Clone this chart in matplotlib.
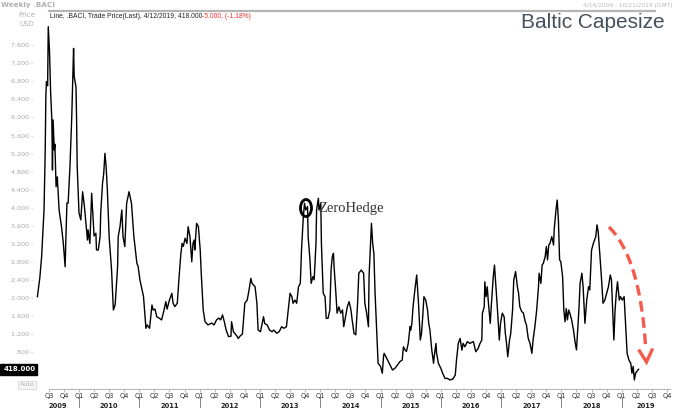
import numpy as np
import matplotlib
matplotlib.use("Agg")
import matplotlib.pyplot as plt
from matplotlib.lines import Line2D
from matplotlib.patches import Rectangle, Ellipse
from matplotlib.transforms import blended_transform_factory

# Weekly .BACI (decimal years, USD)
t_2009 = [2009.31, 2009.35, 2009.38, 2009.42, 2009.44, 2009.45, 2009.46, 2009.48, 2009.49, 2009.51,
          2009.53, 2009.55, 2009.56, 2009.57, 2009.59, 2009.60, 2009.62, 2009.64, 2009.67, 2009.71,
          2009.74, 2009.77, 2009.78, 2009.80, 2009.82, 2009.85, 2009.88, 2009.91, 2009.92, 2009.95,
          2009.96, 2009.97]
v_2009 = [2025, 2440, 2910, 3945, 5275, 6455, 6790, 6700, 8005, 7490,
          6530, 5940, 4830, 5940, 5275, 5400, 4460, 4680, 3945, 3575,
          3205, 2690, 3205, 4100, 4100, 4905, 6010, 7525, 6900, 6675,
          5940, 4905]
t_2010 = [2010.00, 2010.03, 2010.06, 2010.09, 2010.12, 2010.14, 2010.15, 2010.18, 2010.21, 2010.24,
          2010.25, 2010.28, 2010.29, 2010.32, 2010.35, 2010.36, 2010.39, 2010.41, 2010.43, 2010.45,
          2010.47, 2010.50, 2010.54, 2010.57, 2010.60, 2010.64, 2010.65, 2010.68, 2010.71, 2010.73,
          2010.76, 2010.79, 2010.83, 2010.87, 2010.91, 2010.96, 2010.98]
v_2010 = [3880, 3725, 4350, 4020, 3575, 3280, 3505, 3205, 4315, 3575,
          3370, 3430, 3060, 3060, 3355, 3870, 4535, 4755, 5200, 4905,
          4390, 3355, 2615, 1730, 1850, 2690, 3355, 3575, 3945, 3355,
          3135, 4095, 4350, 4095, 3355, 2765, 2700]
t_2011 = [2011.01, 2011.07, 2011.11, 2011.13, 2011.17, 2011.21, 2011.23, 2011.26, 2011.29, 2011.33,
          2011.37, 2011.41, 2011.44, 2011.46, 2011.50, 2011.54, 2011.56, 2011.59, 2011.63, 2011.66,
          2011.69, 2011.71, 2011.73, 2011.76, 2011.79, 2011.81, 2011.84, 2011.87, 2011.89, 2011.91,
          2011.92, 2011.95, 2011.98]
v_2011 = [2400, 2025, 1325, 1400, 1325, 1840, 1730, 1750, 1580, 1550,
          1510, 1730, 1915, 1750, 1950, 2100, 1880, 1805, 1880, 2470,
          2985, 3205, 3140, 3320, 3205, 3575, 3355, 2800, 3205, 3280,
          3060, 3650, 3575]
t_2012 = [2012.01, 2012.03, 2012.06, 2012.09, 2012.14, 2012.20, 2012.24, 2012.28, 2012.32, 2012.35,
          2012.38, 2012.41, 2012.44, 2012.48, 2012.52, 2012.53, 2012.56, 2012.59, 2012.62, 2012.64,
          2012.67, 2012.71, 2012.75, 2012.79, 2012.82, 2012.85, 2012.87, 2012.92, 2012.95, 2012.97]
v_2012 = [3060, 2470, 1730, 1470, 1400, 1440, 1400, 1510, 1550, 1510,
          1620, 1470, 1285, 1140, 1150, 1470, 1250, 1200, 1150, 1100,
          1150, 1200, 1880, 1950, 2175, 2430, 2320, 2245, 1880, 1285]
t_2013 = [2013.01, 2013.06, 2013.08, 2013.12, 2013.16, 2013.20, 2013.23, 2013.28, 2013.32, 2013.36,
          2013.40, 2013.44, 2013.47, 2013.50, 2013.53, 2013.55, 2013.58, 2013.61, 2013.64, 2013.67,
          2013.69, 2013.72, 2013.74, 2013.76, 2013.79, 2013.80, 2013.83, 2013.85, 2013.88, 2013.90,
          2013.93, 2013.94, 2013.97, 2013.98]
v_2013 = [1250, 1580, 1430, 1400, 1285, 1250, 1285, 1215, 1250, 1360,
          1325, 1360, 1730, 2100, 2025, 1880, 1950, 1880, 2245, 2320,
          3060, 3795, 4095, 3945, 4020, 3355, 2840, 2320, 2470, 2400,
          3205, 3945, 4205, 3945]
t_2014 = [2014.01, 2014.02, 2014.05, 2014.08, 2014.10, 2014.13, 2014.16, 2014.18, 2014.20, 2014.22,
          2014.23, 2014.26, 2014.28, 2014.31, 2014.34, 2014.37, 2014.39, 2014.42, 2014.45, 2014.48,
          2014.51, 2014.53, 2014.56, 2014.59, 2014.62, 2014.64, 2014.68, 2014.72, 2014.74, 2014.77,
          2014.80, 2014.81, 2014.84, 2014.85, 2014.87, 2014.89, 2014.91, 2014.94, 2014.96]
v_2014 = [4095, 3205, 2100, 2025, 1545, 1545, 1730, 2615, 2910, 2985,
          2690, 2100, 1660, 1800, 1660, 1730, 1360, 1580, 1805, 1915,
          1730, 1510, 1215, 1180, 1880, 2545, 2615, 2545, 1880, 1660,
          1360, 2470, 3355, 3650, 3205, 2985, 2100, 1140, 550]
t_2015 = [2015.00, 2015.03, 2015.05, 2015.06, 2015.09, 2015.13, 2015.17, 2015.20, 2015.24, 2015.28,
          2015.32, 2015.36, 2015.38, 2015.41, 2015.43, 2015.46, 2015.49, 2015.50, 2015.52, 2015.54,
          2015.57, 2015.60, 2015.63, 2015.66, 2015.68, 2015.70, 2015.72, 2015.75, 2015.78, 2015.80,
          2015.82, 2015.85, 2015.88, 2015.89, 2015.92, 2015.93, 2015.96]
v_2015 = [480, 330, 695, 770, 695, 585, 480, 400, 440, 510,
          585, 620, 915, 840, 810, 990, 1360, 1285, 1430, 1805,
          2175, 2505, 1880, 1065, 1215, 1580, 2025, 1950, 1730, 1435,
          1285, 845, 550, 695, 990, 770, 550]
t_2016 = [2016.00, 2016.03, 2016.07, 2016.11, 2016.15, 2016.20, 2016.24, 2016.26, 2016.29, 2016.32,
          2016.35, 2016.37, 2016.40, 2016.44, 2016.48, 2016.54, 2016.58, 2016.62, 2016.65, 2016.68,
          2016.69, 2016.72, 2016.73, 2016.75, 2016.77, 2016.79, 2016.82, 2016.84, 2016.87, 2016.89,
          2016.91, 2016.94, 2016.97, 2016.99]
v_2016 = [440, 330, 215, 215, 180, 200, 290, 620, 990, 1100,
          840, 990, 915, 1030, 990, 1030, 805, 880, 990, 1065,
          1660, 1800, 2355, 2025, 2245, 1880, 1435, 1880, 2470, 2725,
          2320, 1730, 1065, 1435]
t_2017 = [2017.02, 2017.05, 2017.07, 2017.09, 2017.11, 2017.14, 2017.16, 2017.19, 2017.21, 2017.24,
          2017.27, 2017.29, 2017.31, 2017.34, 2017.37, 2017.40, 2017.42, 2017.45, 2017.48, 2017.51,
          2017.53, 2017.56, 2017.59, 2017.62, 2017.63, 2017.66, 2017.68, 2017.70, 2017.73, 2017.75,
          2017.77, 2017.79, 2017.81, 2017.84, 2017.87, 2017.88, 2017.91, 2017.93, 2017.95, 2017.97,
          2017.99]
v_2017 = [1660, 1580, 1215, 990, 695, 1065, 1215, 1730, 2395, 2580,
          2245, 2100, 1805, 1700, 1660, 1470, 1400, 1100, 990, 770,
          1065, 1360, 1730, 2245, 2545, 2320, 2725, 2765, 2910, 3135,
          2840, 3170, 3205, 3355, 3170, 3505, 3945, 4165, 3725, 2840,
          2800]
t_2018 = [2018.02, 2018.04, 2018.06, 2018.08, 2018.10, 2018.12, 2018.14, 2018.17, 2018.20, 2018.23,
          2018.25, 2018.27, 2018.29, 2018.31, 2018.34, 2018.36, 2018.39, 2018.42, 2018.45, 2018.47,
          2018.50, 2018.53, 2018.55, 2018.57, 2018.59, 2018.61, 2018.64, 2018.67, 2018.69, 2018.72,
          2018.75, 2018.78, 2018.81, 2018.83, 2018.85, 2018.87, 2018.89, 2018.91, 2018.93, 2018.96,
          2018.98]
v_2018 = [2470, 1730, 1470, 1760, 1510, 1730, 1660, 1510, 1285, 990,
          845, 1285, 1730, 2320, 2545, 2245, 1435, 1950, 2245, 2175,
          3060, 3205, 3280, 3355, 3615, 3465, 2910, 2320, 1880, 1950,
          2100, 2245, 2505, 2400, 1730, 1065, 1730, 2100, 2355, 1950,
          2025]
t_2019 = [2019.01, 2019.04, 2019.07, 2019.09, 2019.12, 2019.15, 2019.17, 2019.19, 2019.21, 2019.23,
          2019.28]
v_2019 = [1950, 2025, 1285, 770, 620, 550, 330, 480, 180, 330,
          418]

dates = t_2009 + t_2010 + t_2011 + t_2012 + t_2013 + t_2014 + t_2015 + t_2016 + t_2017 + t_2018 + t_2019
prices = v_2009 + v_2010 + v_2011 + v_2012 + v_2013 + v_2014 + v_2015 + v_2016 + v_2017 + v_2018 + v_2019
assert len(dates) == len(prices)

y_ticks = list(range(800, 7601, 400))
years = list(range(2009, 2020))
first_quarter = 2009.5          # Q3 2009, first labelled quarter
last_quarter = 2019.75          # Q4 2019
range_start, range_end = 2009.28, 2019.80   # 4/14/2009 - 10/21/2019
last_value, change, change_pct = 418.0, -5.0, -1.18

W, H = 680, 408
fig = plt.figure(figsize=(W / 100, H / 100), dpi=100)

# axes placed in pixels: left 35, right 672, top 11, bottom 389
ax = fig.add_axes([35 / W, 1 - 389 / H, (672 - 35) / W, (389 - 11) / H])
ax.set_xlim(2009.2703, 2019.834)
ax.set_ylim(-20, 8353)

ax.plot(dates, prices, color='black', lw=1.0, solid_joinstyle='round')

# y axis: grey labels with a dash as tick
ax.set_yticks(y_ticks)
ax.set_yticklabels([f"{v:,} -" for v in y_ticks], fontsize=4.6, color='#a8a8a8')
ax.tick_params(axis='y', length=0, pad=1)

# spines
for s in ['left', 'right']:
    ax.spines[s].set_visible(False)
ax.spines['top'].set_color('#b4b4b4')
ax.spines['top'].set_linewidth(1.6)
ax.spines['top'].set_bounds(first_quarter, 2019.55)
ax.spines['bottom'].set_color('#b8b8b8')
ax.spines['bottom'].set_linewidth(0.8)
ax.spines['bottom'].set_bounds(first_quarter, last_quarter + 0.05)

# quarter ticks
q_pos = np.arange(first_quarter, last_quarter + 0.01, 0.25)
q_lab = ["Q%d" % (int(round((q % 1) * 4)) + 1) for q in q_pos]
ax.set_xticks(q_pos)
ax.set_xticklabels(q_lab, fontsize=4.8, color='#333333')
ax.tick_params(axis='x', length=2, width=0.5, color='#999999', pad=1)

# year labels and separators
trans = blended_transform_factory(ax.transData, ax.transAxes)
for y in years:
    lo = max(y, range_start)
    hi = min(y + 1, range_end)
    ax.text((lo + hi) / 2, -0.044, str(y), transform=trans, ha='center', va='center',
            fontsize=4.8, fontweight='bold', color='#222222', clip_on=False)
    if y > 2009:
        ax.add_line(Line2D([y, y], [-0.022, -0.05], transform=trans, color='#555555',
                           lw=0.5, clip_on=False))

# header texts
fig.text(1 / W, 1 - 5 / H, "Weekly .BACI", fontsize=5.2, color='#b0b0b0', fontweight='bold',
         ha='left', va='center')
fig.text(27 / W, 1 - 15 / H, "Price", fontsize=5.0, color='#b0b0b0', ha='center', va='center')
fig.text(27 / W, 1 - 24 / H, "USD", fontsize=5.0, color='#b0b0b0', ha='center', va='center')
fig.text(672 / W, 1 - 5 / H, "4/14/2009 - 10/21/2019 (GMT)", fontsize=4.2, color='#b8b8b8',
         ha='right', va='center')

t1 = fig.text(50 / W, 1 - 16 / H,
              "Line, .BACI, Trade Price(Last), 4/12/2019, %.3f" % last_value,
              fontsize=4.9, color='#222222', ha='left', va='center', family='Liberation Sans')
fig.text(0, 0, "", fontsize=1)
ax.annotate("%.3f, (%.2f%%)" % (change, change_pct), xy=(1, 0.5), xycoords=t1,
            ha='left', va='center', fontsize=4.9, color='#f03030', family='Liberation Sans',
            annotation_clip=False)

fig.text(665 / W, 1 - 22 / H, "Baltic Capesize", fontsize=15, color='#44505c',
         ha='right', va='center', family='Liberation Sans')

# last value box and "Auto"
fig.add_artist(Rectangle((0, 1 - 374.5 / H), 37 / W, 11 / H, transform=fig.transFigure,
                         color='black'))
fig.text(36 / W, 1 - 369 / H, "%.3f" % last_value, fontsize=5, color='white',
         fontweight='bold', ha='right', va='center')
fig.text(27 / W, 1 - 385 / H, "Auto", fontsize=4.6, color='#b0b0b0', ha='center', va='center',
         bbox=dict(boxstyle='square,pad=0.2', fc='#f6f6f6', ec='#d0d0d0', lw=0.5))

# ZeroHedge watermark
fig.add_artist(Ellipse((306 / W, 1 - 208 / H), 11 / W, 17 / H, transform=fig.transFigure,
                       fill=False, ec='black', lw=2.0))
fig.text(318 / W, 1 - 209 / H, "ZeroHedge", fontsize=10.5, color='#333333',
         family='Liberation Serif', ha='left', va='center')

# red dashed curved arrow
p0 = np.array([609.0, 227.0])
p1 = np.array([640.0, 258.0])
p2 = np.array([645.5, 346.0])
s = np.linspace(0, 1, 60)[:, None]
curve = (1 - s) ** 2 * p0 + 2 * (1 - s) * s * p1 + s ** 2 * p2
red = '#f65a4c'
fig.add_artist(Line2D(curve[:, 0] / W, 1 - curve[:, 1] / H, transform=fig.transFigure,
                      color=red, lw=2.4, dashes=(3.2, 1.7), solid_capstyle='butt'))
head = np.array([[639.5, 351.0], [646.5, 362.0], [652.0, 350.0]])
fig.add_artist(Line2D(head[:, 0] / W, 1 - head[:, 1] / H, transform=fig.transFigure,
                      color=red, lw=2.4, solid_joinstyle='miter'))

fig.savefig("out.png", dpi=100)
